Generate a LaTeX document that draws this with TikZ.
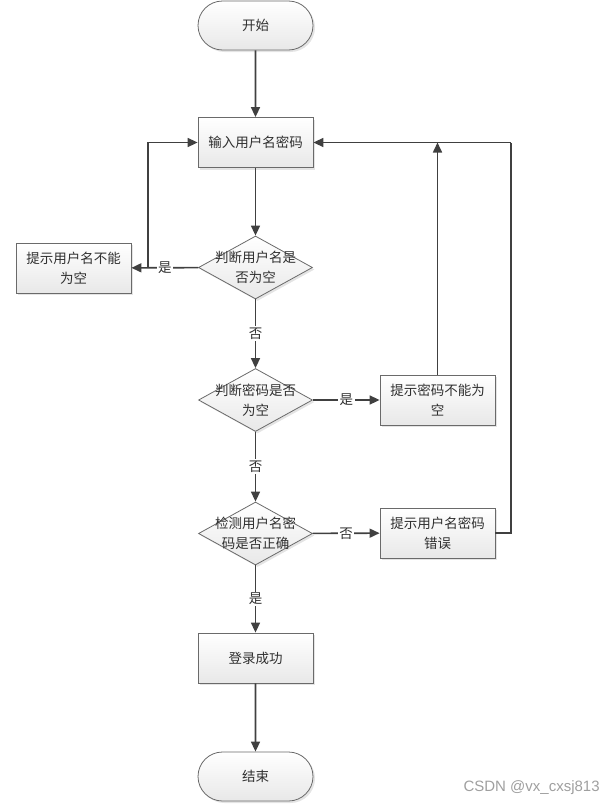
\documentclass[tikz,border=0pt]{standalone}
\usepackage{fontspec}
\newfontfamily\cjk{Noto Sans CJK SC}
\newfontfamily\wmfont{Liberation Sans}
\usetikzlibrary{shapes.geometric,shapes.misc,arrows.meta,shadows}
\definecolor{lineC}{HTML}{404040}
\definecolor{borderC}{HTML}{6A6A6A}
\definecolor{textC}{HTML}{303030}
\begin{document}
\begin{tikzpicture}[x=1pt,y=-1pt,
  every node/.style={font=\cjk\fontsize{13.5}{20}\selectfont, text=textC},
  shapebase/.style={draw=borderC, line width=0.8pt, top color=white, bottom color=gray!18,
     drop shadow={shadow xshift=2pt, shadow yshift=-2pt, fill=gray!60, opacity=0.35}},
  term/.style={shapebase, rounded rectangle, minimum width=115pt, minimum height=49pt, inner sep=0pt},
  procbox/.style={shapebase, rectangle, minimum width=115pt, minimum height=50pt, inner sep=0pt, align=center},
  decision/.style={shapebase, diamond, minimum width=114pt, minimum height=63pt, inner sep=0pt, aspect=1.8},
  conn/.style={draw=lineC, line width=1.6pt, -{Triangle[length=10pt,width=9pt]}},
  plain/.style={draw=lineC, line width=1.6pt},
  lbl/.style={fill=white, inner sep=1.5pt}
]
\useasboundingbox (0,0) rectangle (613,806);

\node[term] (start) at (255.5,25.5) {开始};
\node[procbox] (input) at (255.5,142.5) {输入用户名密码};
\node[decision, label={[align=center,font=\cjk\fontsize{13.5}{20}\selectfont,text=textC]center:判断用户名是\\否为空}] (d1) at (255.5,267.5) {};
\node[procbox] (e1) at (73.5,268) {提示用户名不能\\为空};
\node[decision, label={[align=center,font=\cjk\fontsize{13.5}{20}\selectfont,text=textC]center:判断密码是否\\为空}] (d2) at (255.5,400) {};
\node[procbox] (e2) at (437.5,400) {提示密码不能为\\空};
\node[decision, label={[align=center,font=\cjk\fontsize{13.5}{20}\selectfont,text=textC]center:检测用户名密\\码是否正确}] (d3) at (255.5,533.5) {};
\node[procbox] (e3) at (437.5,533) {提示用户名密码\\错误};
\node[procbox] (ok) at (255.5,658) {登录成功};
\node[term] (stop) at (255.5,776.5) {结束};

\coordinate (j1) at (148,268);
\coordinate (j2) at (437.5,142.5);
\coordinate (j3) at (511,533);
\coordinate (j4) at (511,142.5);

\draw[conn] (start) -- (input);
\draw[conn] (input) -- (d1);
\draw[conn] (d1) -- node[lbl, pos=0.5]{是} (e1);
\draw[conn] (j1) |- (input);
\draw[conn] (d1) -- node[lbl]{否} (d2);
\draw[conn] (d2) -- node[lbl]{是} (e2);
\draw[conn] (e2) -- (j2);
\draw[conn] (d2) -- node[lbl]{否} (d3);
\draw[conn] (d3) -- node[lbl]{否} (e3);
\draw[plain] (e3) -- (j3) -- (j4);
\draw[conn] (j4) -- (input);
\draw[conn] (d3) -- node[lbl]{是} (ok);
\draw[conn] (ok) -- (stop);

\node[font=\wmfont\fontsize{15}{15}\selectfont, text=gray!75, anchor=west] (wm) at (460,788) {CSDN @vx\_cxsj813};
\end{tikzpicture}
\end{document}
